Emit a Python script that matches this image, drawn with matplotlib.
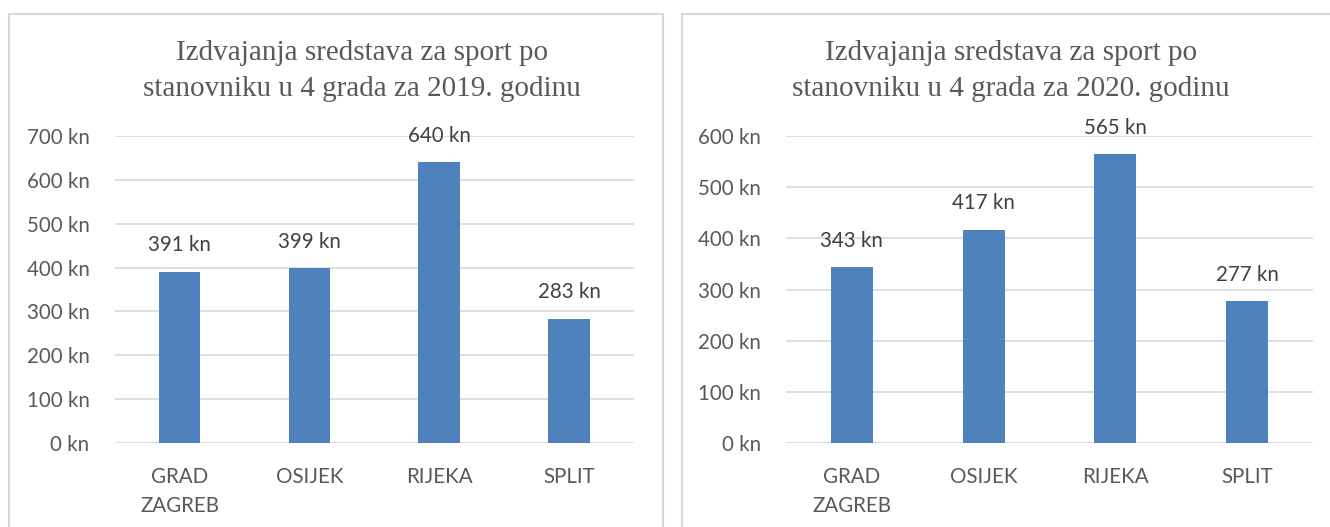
import matplotlib
matplotlib.use("Agg")
import matplotlib.pyplot as plt
from matplotlib.patches import Rectangle

categories = ["GRAD\nZAGREB", "OSIJEK", "RIJEKA", "SPLIT"]
values_2019 = [391, 399, 640, 283]
values_2020 = [343, 417, 565, 277]
ticks_2019 = [0, 100, 200, 300, 400, 500, 600, 700]
ticks_2020 = [0, 100, 200, 300, 400, 500, 600]
title_2019 = "Izdvajanja sredstava za sport po\nstanovniku u 4 grada za 2019. godinu"
title_2020 = "Izdvajanja sredstava za sport po\nstanovniku u 4 grada za 2020. godinu"

W, H = 1330, 527
fig = plt.figure(figsize=(W / 100, H / 100), dpi=100)

BAR = "#4f81bd"
GRID = "#d9d9d9"
TXT = "#595959"
LBL = "#404040"
SANS = ["Lato", "DejaVu Sans"]
SERIF = ["Liberation Serif", "DejaVu Serif"]

# panel borders
for x0, x1 in [(9, 663), (682, 1340)]:
    fig.patches.append(Rectangle((x0 / W, -0.05), (x1 - x0) / W, (H - 14) / H + 0.05,
                                 transform=fig.transFigure, fill=False,
                                 edgecolor=GRID, linewidth=1.5))


def panel(rect, values, ticks, title, title_x):
    ax = fig.add_axes(rect)
    x = list(range(len(categories)))
    ax.bar(x, values, width=0.32, color=BAR, zorder=3)
    ax.set_xlim(-0.5, len(categories) - 0.5)
    ax.set_ylim(0, ticks[-1])
    ax.set_yticks(ticks)
    ax.set_yticklabels([f"{t} kn" for t in ticks], fontsize=14.8, color=TXT, family=SANS)
    ax.set_xticks(x)
    ax.set_xticklabels(categories, fontsize=14.8, color=TXT, family=SANS, linespacing=1.6)
    ax.tick_params(axis="both", length=0)
    ax.tick_params(axis="y", pad=18)
    ax.tick_params(axis="x", pad=17)
    for s in ax.spines.values():
        s.set_visible(False)
    ax.yaxis.grid(True, color=GRID, linewidth=1.2, zorder=0)
    ax.set_axisbelow(True)
    for xi, v in zip(x, values):
        ax.annotate(f"{v} kn", (xi, v), xytext=(0, 19), textcoords="offset points",
                    ha="center", va="center", fontsize=14.8, color=LBL, family=SANS)
    fig.text(title_x / W, 1 - 71 / H, title, ha="center", va="center",
             fontsize=21, color=TXT, family=SERIF, linespacing=1.55)
    ax.set_facecolor("none")
    return ax


ybot = (H - 443) / H
yh = (443 - 136) / H
panel([114.6 / W, ybot, (634 - 114.6) / W, yh], values_2019, ticks_2019, title_2019, 362)
panel([786 / W, ybot, (1313 - 786) / W, yh], values_2020, ticks_2020, title_2020, 1011)

fig.savefig("out.png", dpi=100, facecolor="white")
